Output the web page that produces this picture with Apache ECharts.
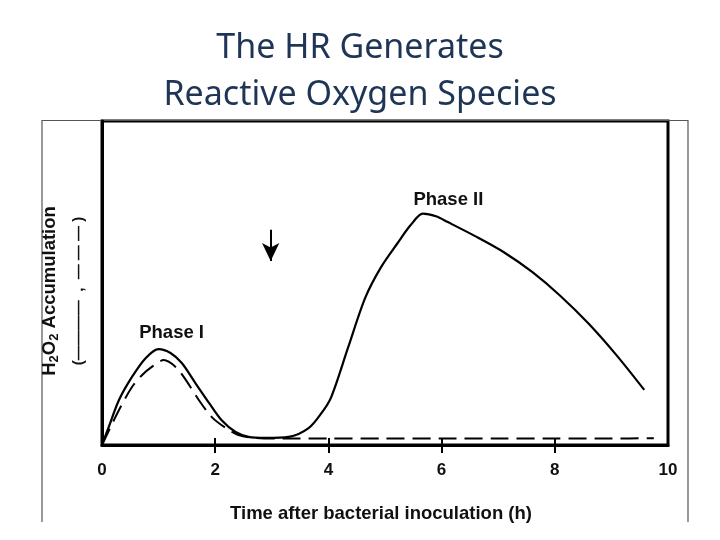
<!DOCTYPE html>
<html>
<head>
<meta charset="utf-8">
<script src="https://cdn.jsdelivr.net/npm/echarts@6/dist/echarts.min.js"></script>
<style>
  html, body { margin: 0; padding: 0; background: #fff; }
  #chart { width: 720px; height: 540px; }
</style>
</head>
<body>
<div id="chart"></div>
<script>
// ---- data (time in h, H2O2 accumulation in arbitrary units 0-100) ----
var titleLines = ['The HR Generates', 'Reactive Oxygen Species'];
var xTickValues = [0, 2, 4, 6, 8, 10];
var xCrossTicks = [2, 4, 6, 8];
var solidCurve = [
  [0, 0], [0.12, 5.6], [0.3, 13.9], [0.53, 21], [0.77, 26.8], [1.0, 29.6],
  [1.21, 28.4], [1.41, 25.3], [1.65, 19.1], [1.89, 13], [2.11, 7.7],
  [2.36, 4], [2.59, 2.5], [2.89, 2.2], [3.3, 2.5], [3.65, 5.2], [3.88, 9.9],
  [4.05, 14.8], [4.35, 30.2], [4.65, 45.4], [4.93, 54.9], [5.23, 62.5],
  [5.45, 67.8], [5.67, 71.4], [5.9, 70.6], [6.11, 68.8], [6.6, 64.4], [7.1, 59.5],
  [7.6, 53.4], [8.1, 46], [8.6, 37.4], [9.1, 27.5], [9.58, 17]
];
var dashedCurve = [
  [0, 0], [0.3, 10.8], [0.53, 17.9], [0.71, 21.6], [0.88, 24.1], [1.09, 26.2],
  [1.3, 24.1], [1.48, 20.1], [1.71, 13.9], [1.94, 8.6], [2.19, 5.2],
  [2.41, 3.1], [2.71, 2.2], [3.2, 2.0], [4, 2.0], [5, 2.0], [6, 2.0],
  [7, 2.0], [8, 2.0], [9, 2.0], [9.75, 2.1]
];
var phaseLabels = [
  { name: 'Phase I', x: 1.23, y: 34.6 },
  { name: 'Phase II', x: 6.12, y: 75.6 }
];
var inoculationArrow = { x: 2.98, from: 66.4, to: 56.8 };

var FONT = '"Liberation Sans", Arial, sans-serif';
var chart = echarts.init(document.getElementById('chart'), null, { renderer: 'canvas' });

var option = {
  animation: false,
  backgroundColor: '#ffffff',
  title: {
    text: titleLines.join('\n'),
    left: 'center',
    top: 20,
    textStyle: {
      fontFamily: '"Noto Sans", "Open Sans", sans-serif',
      fontWeight: 'normal',
      fontSize: 34,
      lineHeight: 47,
      color: '#1f3556'
    }
  },
  graphic: [
    {
      type: 'polyline',
      shape: { points: [[42, 522], [42, 120.5], [688, 120.5], [688, 522]] },
      style: { stroke: '#555', lineWidth: 1.2, fill: null },
      z: 0
    }
  ],
  grid: {
    left: 102, right: 52, top: 121, bottom: 95,
    show: true, borderColor: '#000', borderWidth: 3, backgroundColor: 'transparent'
  },
  xAxis: [
    {
      type: 'value', min: 0, max: 10, interval: 2, position: 'bottom',
      axisLine: { show: true, lineStyle: { color: '#000', width: 3 } },
      axisTick: { show: true, customValues: xCrossTicks, length: 8, inside: false, lineStyle: { color: '#000', width: 2 } },
      axisLabel: {
        customValues: xTickValues, margin: 17,
        fontFamily: FONT, fontWeight: 'bold', fontSize: 17, color: '#111'
      },
      splitLine: { show: false },
      name: 'Time after bacterial inoculation (h)',
      nameLocation: 'middle', nameGap: 59,
      nameTextStyle: { fontFamily: FONT, fontWeight: 'bold', fontSize: 18.5, color: '#111', padding: [0, 8, 0, 0] }
    },
    {
      type: 'value', min: 0, max: 10, interval: 2, position: 'bottom', offset: 0,
      axisLine: { show: false },
      axisTick: { show: true, customValues: xCrossTicks, length: 7, inside: true, lineStyle: { color: '#000', width: 2 } },
      axisLabel: { show: false },
      splitLine: { show: false }
    }
  ],
  yAxis: {
    type: 'value', min: 0, max: 100,
    axisLine: { show: true, lineStyle: { color: '#000', width: 3 } },
    axisTick: { show: false },
    axisLabel: { show: false },
    splitLine: { show: false },
    name: '{b|H}{s|2}{b|O}{s|2}{b| Accumulation}\n{p|(————  ,  — — — )}',
    nameLocation: 'middle',
    nameRotate: 90,
    nameGap: 5,
    nameTextStyle: {
      padding: [0, 16, 0, 0],
      rich: {
        b: { fontFamily: FONT, fontWeight: 'bold', fontSize: 18.5, color: '#111', lineHeight: 22 },
        s: { fontFamily: FONT, fontWeight: 'bold', fontSize: 13, color: '#111', verticalAlign: 'bottom', lineHeight: 22 },
        p: { fontFamily: FONT, fontWeight: 'bold', fontSize: 15, color: '#111', lineHeight: 36 }
      }
    }
  },
  series: [
    {
      type: 'line',
      data: solidCurve,
      smooth: 0.3,
      showSymbol: false,
      lineStyle: { color: '#000', width: 2.2 },
      markPoint: {
        symbol: 'circle', symbolSize: 0,
        label: { show: true, position: 'inside', fontFamily: FONT, fontWeight: 'bold', fontSize: 18.5, color: '#111', formatter: '{b}' },
        data: phaseLabels.map(function (p) { return { name: p.name, coord: [p.x, p.y] }; })
      },
      markLine: {
        silent: true,
        symbol: ['none', 'arrow'],
        symbolSize: [13, 18],
        label: { show: false },
        lineStyle: { color: '#000', width: 2, type: 'solid' },
        data: [[{ coord: [inoculationArrow.x, inoculationArrow.from] }, { coord: [inoculationArrow.x, inoculationArrow.to] }]]
      }
    },
    {
      type: 'line',
      data: dashedCurve,
      smooth: 0.3,
      showSymbol: false,
      lineStyle: { color: '#000', width: 2, type: [18, 8] }
    }
  ]
};
chart.setOption(option);
</script>
</body>
</html>
